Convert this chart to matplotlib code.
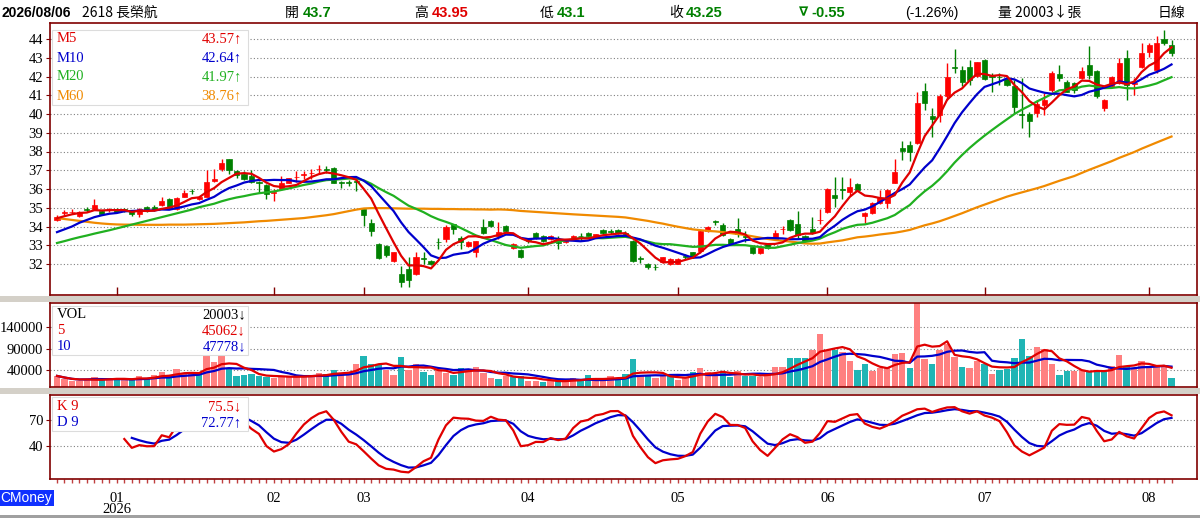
import numpy as np
import pandas as pd
import matplotlib
matplotlib.use('Agg')
import matplotlib.pyplot as plt
from matplotlib.patches import Rectangle

# ---------------- data ----------------
opens = [34.35, 34.7, 34.75, 34.57, 34.92, 34.92, 34.83, 34.88, 34.95, 34.9,
         34.83, 34.66, 35.05, 35.05, 35.13, 35.45, 34.95, 35.6, 35.92, 35.45,
         35.6, 36.43, 37.05, 37.58, 36.95, 36.8, 36.7, 36.36, 36.2, 35.78,
         36.0, 36.34, 36.62, 36.75, 36.84, 37.05, 37.07, 37.13, 36.36, 36.36,
         36.42, 34.92, 34.18, 33.06, 32.98, 32.18, 31.47, 31.74, 31.47, 32.29,
         32.18, 33.2, 33.36, 34.12, 33.41, 32.97, 32.62, 33.95, 34.3, 33.47,
         34.03, 32.88, 32.76, 33.26, 33.65, 33.5, 33.33, 33.15, 33.2, 33.36,
         33.5, 33.65, 33.47, 33.82, 33.74, 33.82, 33.68, 33.24, 32.29, 32.0,
         31.84, 32.09, 32.0, 32.02, 32.42, 32.62, 32.7, 33.77, 34.26, 34.07,
         33.36, 33.86, 33.48, 32.9, 32.6, 33.06, 33.33, 33.84, 34.35, 34.12,
         33.5, 33.86, 34.33, 34.78, 35.66, 36.0, 35.84, 36.25, 34.57, 34.71,
         35.27, 35.27, 36.34, 38.2, 38.32, 38.46, 41.24, 39.91, 39.96, 40.94,
         42.52, 42.35, 42.53, 42.04, 42.88, 42.0, 41.97, 41.86, 41.47, 39.98,
         39.99, 40.05, 40.5, 41.29, 42.14, 41.73, 41.65, 41.91, 42.62, 42.3,
         40.32, 41.5, 41.68, 42.97, 41.62, 42.53, 43.33, 42.35, 43.98, 43.7]
highs = [34.6, 34.9, 34.95, 34.85, 35.05, 35.45, 34.9, 35.0, 35.0, 35.0,
         34.9, 35.0, 35.1, 35.15, 35.6, 35.5, 35.55, 35.95, 36.0, 35.65,
         37.0, 37.08, 37.6, 37.6, 37.0, 36.95, 37.0, 36.45, 36.25, 35.98,
         36.7, 36.6, 36.95, 36.95, 37.08, 37.3, 37.22, 37.2, 36.43, 36.5,
         36.6, 34.95, 34.4, 33.1, 33.0, 32.65, 31.9, 32.35, 32.62, 32.62,
         32.2, 33.41, 34.07, 34.15, 33.5, 33.25, 33.25, 34.42, 34.35, 34.25,
         34.1, 33.1, 32.8, 33.35, 33.7, 33.55, 33.55, 33.5, 33.3, 33.55,
         33.68, 33.7, 33.62, 33.85, 33.85, 33.88, 33.75, 33.3, 32.45, 32.05,
         32.0, 32.4, 32.3, 32.3, 32.55, 32.65, 33.82, 34.05, 34.35, 34.2,
         33.4, 34.48, 33.77, 32.95, 32.88, 33.1, 33.82, 34.04, 34.4, 34.83,
         33.55, 34.53, 34.95, 36.07, 36.65, 36.65, 36.6, 36.3, 34.75, 35.3,
         35.95, 36.0, 37.6, 38.55, 38.55, 41.2, 41.68, 40.32, 41.08, 42.71,
         43.45, 42.57, 42.89, 42.8, 42.95, 42.18, 42.18, 41.9, 41.83, 41.9,
         40.1, 40.76, 41.1, 42.27, 42.62, 41.8, 41.7, 42.5, 43.63, 42.35,
         40.78, 42.04, 42.97, 43.41, 41.9, 43.8, 43.8, 44.15, 44.48, 43.95]
lows = [34.3, 34.6, 34.65, 34.5, 34.8, 34.9, 34.6, 34.8, 34.75, 34.75,
        34.55, 34.5, 34.8, 34.85, 35.1, 34.95, 34.9, 35.55, 35.75, 35.4,
        35.55, 36.4, 36.95, 36.8, 36.6, 36.5, 36.3, 35.8, 35.49, 35.36,
        35.95, 36.3, 36.38, 36.55, 36.55, 36.87, 36.87, 36.3, 36.08, 36.15,
        35.9, 34.04, 33.47, 32.25, 32.4, 32.1, 30.76, 30.76, 31.4, 32.0,
        31.95, 32.8, 33.15, 33.6, 32.8, 32.9, 32.35, 33.6, 33.95, 33.33,
        33.7, 32.8, 32.3, 33.1, 33.35, 33.2, 33.3, 32.8, 33.1, 33.3,
        33.24, 33.4, 33.42, 33.6, 33.6, 33.6, 33.55, 32.1, 32.05, 31.75,
        31.7, 32.05, 31.95, 31.98, 32.25, 32.3, 32.6, 33.7, 34.1, 33.5,
        33.0, 33.42, 33.15, 32.55, 32.55, 32.8, 33.3, 33.6, 33.78, 33.4,
        33.2, 33.6, 34.12, 34.7, 35.06, 35.45, 35.63, 35.9, 34.2, 34.65,
        35.2, 35.0, 36.3, 37.55, 37.5, 38.4, 40.23, 38.8, 39.6, 40.76,
        42.2, 41.5, 41.56, 41.95, 41.8, 41.2, 41.56, 41.5, 40.05, 39.26,
        38.78, 39.84, 39.97, 41.2, 41.74, 41.15, 41.1, 41.85, 41.85, 40.85,
        40.14, 41.45, 41.6, 40.76, 41.03, 42.45, 43.06, 42.2, 43.7, 43.1]
closes = [34.5, 34.75, 34.8, 34.8, 34.88, 35.13, 34.66, 34.9, 34.8, 34.88,
          34.66, 34.95, 34.85, 34.88, 35.36, 35.0, 35.5, 35.8, 35.88, 35.6,
          36.4, 36.55, 37.4, 37.0, 36.73, 36.55, 36.37, 36.33, 35.72, 35.82,
          36.3, 36.57, 36.66, 36.78, 36.87, 37.08, 37.04, 36.34, 36.34, 36.34,
          36.4, 34.6, 33.77, 32.3, 32.48, 32.62, 31.03, 31.17, 32.36, 32.26,
          32.0, 33.16, 34.0, 33.86, 33.15, 33.18, 33.2, 33.65, 34.03, 33.68,
          33.77, 33.06, 32.35, 33.22, 33.41, 33.24, 33.5, 33.12, 33.24, 33.5,
          33.48, 33.47, 33.58, 33.65, 33.72, 33.68, 33.6, 32.18, 32.26, 31.82,
          31.82, 32.35, 32.27, 32.27, 32.4, 32.38, 33.77, 34.0, 34.24, 33.54,
          33.06, 33.59, 33.46, 32.6, 32.83, 32.83, 33.64, 33.86, 33.82, 33.54,
          33.24, 33.64, 34.37, 35.98, 35.5, 35.97, 36.12, 35.95, 34.71, 35.27,
          35.54, 35.95, 36.9, 38.05, 37.97, 40.58, 40.6, 39.73, 40.94, 41.95,
          42.48, 41.73, 41.82, 42.76, 41.86, 41.98, 41.95, 41.56, 40.37, 39.96,
          39.61, 40.55, 40.76, 42.18, 41.91, 41.2, 41.3, 42.32, 42.09, 40.94,
          40.73, 41.95, 42.74, 41.56, 41.66, 43.27, 43.68, 43.77, 43.81, 43.25]
volumes = [26000, 18500, 13000, 13000, 18500, 23000, 17000, 18500, 18500, 18500,
           18500, 26000, 18500, 28000, 35000, 25000, 41500, 32000, 32000, 32000,
           72000, 59000, 72000, 41500, 26000, 28000, 31000, 26000, 23000, 21000,
           25000, 26000, 25000, 25000, 26000, 32000, 31000, 40000, 32000, 32000,
           55000, 72000, 54000, 54000, 40000, 28000, 71000, 40000, 54000, 35000,
           28000, 40000, 34000, 28000, 44000, 40000, 48000, 34000, 21000, 18500,
           26000, 23000, 25000, 15000, 15000, 11000, 15000, 13000, 15000, 21000,
           15000, 28000, 15000, 15000, 25000, 21000, 31000, 65000, 26000, 28000,
           21000, 25000, 25000, 17000, 21000, 36000, 45000, 36000, 25000, 36000,
           23000, 38000, 25000, 26000, 23000, 28000, 48000, 48000, 68000, 68000,
           67000, 87000, 124000, 87000, 87000, 83000, 61000, 40000, 55000, 38000,
           44000, 44000, 77000, 80000, 44000, 230000, 65000, 54000, 87000, 100000,
           71000, 48000, 44000, 62000, 55000, 30000, 40000, 42000, 67000, 112000,
           73000, 93000, 88000, 54000, 28000, 38000, 38000, 40000, 36000, 36000,
           36000, 50000, 76000, 46000, 44500, 60000, 44000, 52000, 49300, 20003]

# moving-average values before a full window exists
ma5_head = [34.44, 34.55, 34.65, 34.72]
ma10_head = [33.7, 33.85, 34.0, 34.2, 34.35, 34.5, 34.6, 34.68, 34.72]
ma20_head = [33.12, 33.22, 33.33, 33.43, 33.52, 33.62, 33.71, 33.8, 33.9, 34.0,
             34.1, 34.2, 34.3, 34.4, 34.5, 34.6, 34.7, 34.8, 34.9]
ma60_head = [34.45, 34.4, 34.35, 34.3, 34.25, 34.2, 34.16, 34.13, 34.11,
             34.1, 34.1, 34.09, 34.09, 34.09, 34.09, 34.1, 34.1, 34.1, 34.11,
             34.12, 34.13, 34.14, 34.16,
             34.18, 34.2, 34.22, 34.25, 34.28, 34.3, 34.33, 34.36, 34.39, 34.42,
             34.45, 34.5, 34.55, 34.6, 34.66, 34.74, 34.82, 34.9,
             34.96, 34.98, 34.98, 34.98, 34.97, 34.96, 34.95, 34.95, 34.95, 34.94,
             34.94, 34.93, 34.93, 34.92, 34.92, 34.91, 34.91, 34.9]

month_labels = ['01\n2026', '02', '03', '04', '05', '06', '07', '08']
month_idx = [8, 29, 41, 63, 83, 103, 124, 146]
price_ticks = [32, 33, 34, 35, 36, 37, 38, 39, 40, 41, 42, 43, 44]
vol_ticks = [40000, 90000, 140000]
kd_ticks = [40, 70]
k_missing = [(0, 9), (17, 25)]
d_missing = [(0, 10), (18, 25)]

ma_legend = [('M5', '43.57↑'), ('M10', '42.64↑'), ('M20', '41.97↑'), ('M60', '38.76↑')]
vol_legend = [('VOL', '20003↓'), ('5', '45062↓'), ('10', '47778↓')]
kd_legend = [('K 9', '75.5↓'), ('D 9', '72.77↑')]

# ---------------- derived series ----------------
n = len(closes)
idx = np.arange(n)
o = np.array(opens); h = np.array(highs); l = np.array(lows); c = np.array(closes)
v = np.array(volumes, dtype=float)
cs = pd.Series(c)

def ma(period, head):
    s = cs.rolling(period).mean().to_numpy()
    s[:period - 1] = head
    return s

ma5 = ma(5, ma5_head); ma10 = ma(10, ma10_head)
ma20 = ma(20, ma20_head); ma60 = ma(60, ma60_head)
vs = pd.Series(v)
vma5 = vs.rolling(5, min_periods=1).mean().to_numpy()
vma10 = vs.rolling(10, min_periods=1).mean().to_numpy()

K = np.zeros(n); D = np.zeros(n)
kk, dd = 50.0, 50.0
for i in range(n):
    lo = l[max(0, i - 8):i + 1].min(); hi = h[max(0, i - 8):i + 1].max()
    rsv = (c[i] - lo) / (hi - lo) * 100 if hi > lo else 50
    kk = kk * 2 / 3 + rsv / 3
    dd = dd * 2 / 3 + kk / 3
    K[i] = kk; D[i] = dd
for a, b in k_missing:
    K[a:b] = np.nan
for a, b in d_missing:
    D[a:b] = np.nan

# ---------------- styling ----------------
W, H = 1200, 518
RED = '#ff0000'; GRN = '#008000'
C5 = '#e00000'; C10 = '#0000cc'; C20 = '#20b020'; C60 = '#f08a00'
VRED = '#ff8080'; VTEAL = '#20b5b5'
BORDER = '#800000'
SERIF = ['Liberation Serif', 'DejaVu Serif', 'DejaVu Sans']
SANS = ['Liberation Sans', 'DejaVu Sans']
CJK = ['Noto Sans CJK TC', 'DejaVu Sans']
FS = 10.5

fig = plt.figure(figsize=(12, 5.18), dpi=100)
fig.patch.set_facecolor('white')

def rect(lft, top, rgt, bot):
    return [lft / W, 1 - bot / H, (rgt - lft) / W, (bot - top) / H]

ax1 = fig.add_axes(rect(50, 23, 1197, 295))
ax2 = fig.add_axes(rect(50, 303, 1197, 387))
ax3 = fig.add_axes(rect(50, 395, 1197, 479))

xl = ((50 - 57) / 7.48, (1197 - 57) / 7.48)
for ax in (ax1, ax2, ax3):
    ax.set_xlim(*xl)
    for sp in ax.spines.values():
        sp.set_color(BORDER); sp.set_linewidth(1.2)
    ax.tick_params(axis='y', length=3, color=BORDER, labelsize=FS, pad=2)
    ax.grid(axis='y', color='#808080', linestyle=(0, (1, 2)), linewidth=0.8)
    ax.set_axisbelow(True)

# main candles
up = c >= o
col = np.where(up, RED, GRN)
ax1.vlines(idx, l, h, colors=col, linewidth=1, zorder=2)
body_lo = np.minimum(o, c)
body_h = np.maximum(np.abs(c - o), 0.04)
ax1.bar(idx, body_h, bottom=body_lo, width=0.68, color=col, edgecolor=col, linewidth=0.5, zorder=3)
ax1.plot(idx, ma60, color=C60, lw=1.6, zorder=4)
ax1.plot(idx, ma20, color=C20, lw=1.6, zorder=4)
ax1.plot(idx, ma10, color=C10, lw=1.6, zorder=4)
ax1.plot(idx, ma5, color=C5, lw=1.6, zorder=4)
ax1.set_ylim(44 - (295 - 39) / 18.75, 44 + (39 - 23) / 18.75)
ax1.set_yticks(price_ticks)
ax1.set_yticklabels([str(t) for t in price_ticks], family=SERIF, fontsize=FS)
ax1.set_xticks(month_idx)
ax1.tick_params(axis='x', direction='in', length=6, color=BORDER, labelbottom=False, width=1)

# volume
prev = np.concatenate([[c[0]], c[:-1]])
vcol = np.where(c >= prev, VRED, VTEAL)
vtop = 84 * 2345
ax2.bar(idx, np.minimum(v, vtop), width=0.86, color=vcol, zorder=2)
ax2.plot(idx, vma10, color=C10, lw=1.6, zorder=3)
ax2.plot(idx, vma5, color=C5, lw=1.6, zorder=3)
ax2.set_ylim(0, vtop)
ax2.set_yticks(vol_ticks)
ax2.set_yticklabels([str(t) for t in vol_ticks], family=SERIF, fontsize=FS)
ax2.set_xticks([])

# KD
ax3.plot(idx, D, color=C10, lw=1.6, zorder=3)
ax3.plot(idx, K, color=C5, lw=1.6, zorder=3)
ax3.set_ylim(0.9, 100.1)
ax3.set_yticks(kd_ticks)
ax3.set_yticklabels([str(t) for t in kd_ticks], family=SERIF, fontsize=FS)
ax3.set_xticks(month_idx)
ax3.set_xticklabels(month_labels, family=SERIF, fontsize=FS, linespacing=0.88)
ax3.set_xticks(idx, minor=True)
ax3.tick_params(axis='x', which='both', direction='out', length=3, color='#c04040',
                width=1, pad=6)

# separators
for (t, b) in [(296, 302), (388, 394), (515, 518)]:
    fig.add_artist(Rectangle((0, 1 - b / H), 1, (b - t) / H, transform=fig.transFigure,
                             facecolor='#d4d0c8' if t < 500 else '#a0a0a0',
                             edgecolor='none', zorder=1))

def ftxt(x, y, s, color='black', ha='left', size=FS, family=SERIF, weight='normal', **kw):
    fig.text(x / W, 1 - y / H, s, color=color, ha=ha, va='center', fontsize=size,
             family=family, weight=weight, zorder=7, **kw)

def box(lft, top, rgt, bot):
    fig.add_artist(Rectangle((lft / W, 1 - bot / H), (rgt - lft) / W, (bot - top) / H,
                             transform=fig.transFigure, facecolor='white',
                             edgecolor='#dcdcdc', linewidth=0.8, zorder=6))

# main legend
box(52, 30, 248, 105)
for (lab, val), yy, cc in zip(ma_legend, [39, 58, 77, 96], [C5, C10, C20, C60]):
    ftxt(57, yy, lab, cc)
    ftxt(242, yy, val, cc, ha='right')
# volume legend
box(52, 306, 248, 355)
for (lab, val), yy, cc in zip(vol_legend, [315, 331, 347], ['black', C5, C10]):
    ftxt(57, yy, lab, cc)
    ftxt(246, yy, val, cc, ha='right')
# KD legend
box(52, 397, 248, 431)
for (lab, val), yy, cc in zip(kd_legend, [407, 423], [C5, C10]):
    ftxt(57, yy, lab, cc)
    ftxt(241, yy, val, cc, ha='right')

# header
hy = 13
ftxt(2, hy, '2026/08/06', 'black', size=10, family=SANS, weight='bold')
ftxt(82, hy, '2618 長榮航', 'black', size=10, family=CJK)
ftxt(285, hy, '開', 'black', size=10, family=CJK)
ftxt(303, hy, '43.7', GRN, size=10.5, family=SANS, weight='bold')
ftxt(414, hy, '高', 'black', size=10, family=CJK)
ftxt(432, hy, '43.95', '#e00000', size=10.5, family=SANS, weight='bold')
ftxt(540, hy, '低', 'black', size=10, family=CJK)
ftxt(557, hy, '43.1', GRN, size=10.5, family=SANS, weight='bold')
ftxt(669, hy, '收', 'black', size=10, family=CJK)
ftxt(686, hy, '43.25', GRN, size=10.5, family=SANS, weight='bold')
ftxt(799, hy, '∇', GRN, size=9.5, family=['DejaVu Sans'], weight='bold')
ftxt(811, hy, '-0.55', GRN, size=10.5, family=SANS, weight='bold')
ftxt(905, hy, '(-1.26%)', 'black', size=10, family=SANS)
ftxt(998, hy, '量 20003↓張', 'black', size=10, family=CJK)
ftxt(1158, hy, '日線', 'black', size=10, family=CJK)

# CMoney tag
fig.text(0.5 / W, 1 - 498 / H, 'CMoney', color='white', ha='left', va='center',
         fontsize=10, family=SANS,
         bbox=dict(facecolor='#1030ff', edgecolor='none', pad=1.0), zorder=7)

fig.savefig('out.png', dpi=100, facecolor='white')
